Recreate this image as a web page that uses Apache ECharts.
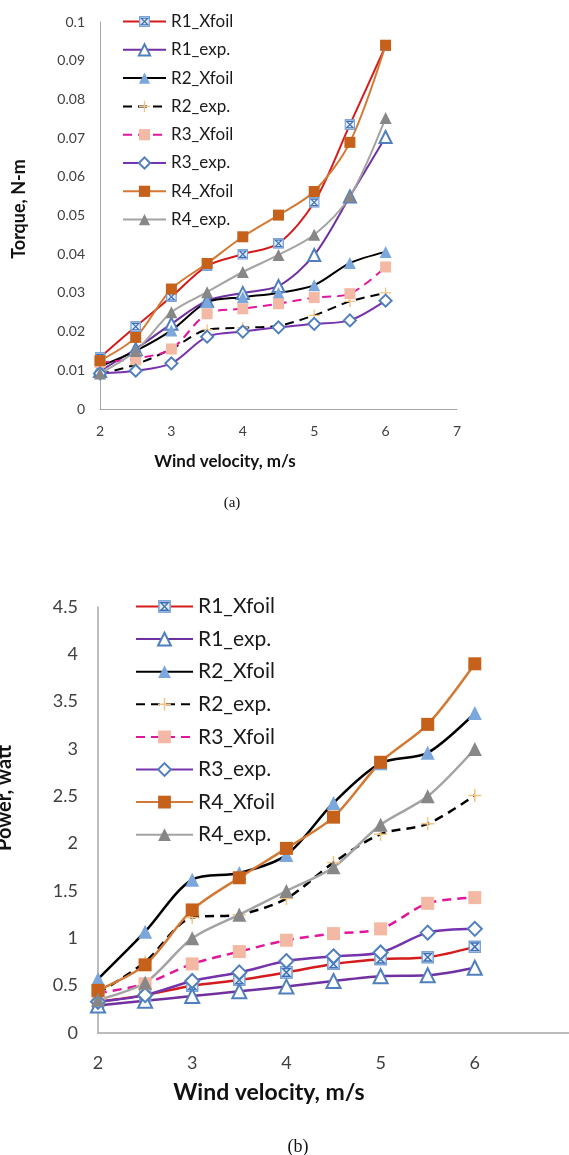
<!DOCTYPE html>
<html>
<head>
<meta charset="utf-8">
<title>Torque and power vs wind velocity</title>
<script src="https://cdn.jsdelivr.net/npm/echarts@6/dist/echarts.min.js"></script>
<style>
  html, body { margin: 0; padding: 0; background: #fff; }
  #chart-a { position: absolute; left: 0; top: 0; width: 569px; height: 540px; }
  #chart-b { position: absolute; left: 0; top: 540px; width: 569px; height: 615px; }
</style>
</head>
<body>
<div id="chart-a"></div>
<div id="chart-b"></div>
<script>
// wind velocity, m/s
const velocity = [2, 2.5, 3, 3.5, 4, 4.5, 5, 5.5, 6]
const seriesNames = ['R1_Xfoil', 'R1_exp.', 'R2_Xfoil', 'R2_exp.', 'R3_Xfoil', 'R3_exp.', 'R4_Xfoil', 'R4_exp.']

// (a) torque, N-m
const torqueR1Xfoil = [0.0133, 0.0213, 0.029, 0.037, 0.040, 0.0428, 0.0534, 0.0735, 0.0938]
const torqueR1Exp = [0.0098, 0.0155, 0.022, 0.028, 0.030, 0.0318, 0.0398, 0.0549, 0.0703]
const torqueR2Xfoil = [0.011, 0.015, 0.0203, 0.0276, 0.0289, 0.030, 0.032, 0.0377, 0.0406]
const torqueR2Exp = [0.009, 0.0115, 0.0155, 0.0205, 0.021, 0.0215, 0.0242, 0.0278, 0.030]
const torqueR3Xfoil = [0.012, 0.013, 0.0155, 0.0246, 0.0259, 0.0272, 0.0288, 0.0298, 0.0367]
const torqueR3Exp = [0.0092, 0.0099, 0.0118, 0.0187, 0.020, 0.0211, 0.022, 0.0229, 0.028]
const torqueR4Xfoil = [0.0125, 0.0185, 0.031, 0.0376, 0.0445, 0.0501, 0.0562, 0.0689, 0.094]
const torqueR4Exp = [0.0092, 0.015, 0.025, 0.0302, 0.0354, 0.0398, 0.045, 0.0549, 0.0752]

// (b) power, watt
const powerR1Xfoil = [0.33, 0.40, 0.50, 0.56, 0.64, 0.73, 0.78, 0.80, 0.91]
const powerR1Exp = [0.29, 0.34, 0.39, 0.44, 0.49, 0.55, 0.60, 0.61, 0.69]
const powerR2Xfoil = [0.57, 1.07, 1.62, 1.69, 1.88, 2.43, 2.85, 2.96, 3.38]
const powerR2Exp = [0.42, 0.75, 1.22, 1.25, 1.42, 1.80, 2.10, 2.21, 2.51]
const powerR3Xfoil = [0.42, 0.52, 0.73, 0.86, 0.98, 1.05, 1.10, 1.37, 1.43]
const powerR3Exp = [0.33, 0.40, 0.55, 0.64, 0.76, 0.81, 0.85, 1.06, 1.10]
const powerR4Xfoil = [0.45, 0.72, 1.30, 1.64, 1.95, 2.28, 2.86, 3.26, 3.90]
const powerR4Exp = [0.35, 0.53, 1.00, 1.25, 1.50, 1.75, 2.20, 2.50, 3.00]

const FONT = 'Lato, "Open Sans", sans-serif'

// square with an X inside (R1_Xfoil marker)
const xBoxSvg = "<svg xmlns='http://www.w3.org/2000/svg' width='24' height='24' viewBox='0 0 24 24'>" +
  "<rect x='1.5' y='1.5' width='21' height='21' fill='#e3ecf7' stroke='#7ca3d6' stroke-width='3'/>" +
  "<path d='M5 5 L19 5 L5 19 L19 19 Z' fill='none' stroke='#3d6fb8' stroke-width='2.6'/></svg>"
const xBoxSymbol = 'image://data:image/svg+xml;charset=utf-8,' + encodeURIComponent(xBoxSvg)
const plusSymbol = 'path://M5.3,0 L6.7,0 L6.7,5.3 L12,5.3 L12,6.7 L6.7,6.7 L6.7,12 L5.3,12 L5.3,6.7 L0,6.7 L0,5.3 L5.3,5.3 Z'

// per-series look: line colour, dash, marker
const styles = [
  { line: '#d41c1c', dash: 'solid', symbol: xBoxSymbol, color: '#7ca3d6', k: 1.0 },
  { line: '#7030a0', dash: 'solid', symbol: 'emptyTriangle', color: '#4f7fbf', k: 1.1 },
  { line: '#000000', dash: 'solid', symbol: 'triangle', color: '#7ba7dc', k: 1.1 },
  { line: '#000000', dash: [9, 6], symbol: plusSymbol, color: '#f2c47f', k: 1.0 },
  { line: '#e0169c', dash: [9, 6], symbol: 'rect', color: '#f4b9a4', k: 1.0 },
  { line: '#7534ad', dash: 'solid', symbol: 'emptyDiamond', color: '#4f7fbf', k: 1.1 },
  { line: '#d27a35', dash: 'solid', symbol: 'rect', color: '#c6611b', k: 1.0 },
  { line: '#a3a3a3', dash: 'solid', symbol: 'triangle', color: '#878787', k: 1.1 }
]

const toPairs = (ys) => velocity.map((x, i) => [x, ys[i]])

const buildSeries = (lists, size, width) => lists.map((ys, i) => {
  const s = styles[i]
  return {
    name: seriesNames[i],
    type: 'line',
    smooth: 0.3,
    data: toPairs(ys),
    symbol: s.symbol,
    symbolSize: Math.round(size * s.k),
    lineStyle: { color: s.line, width: width, type: s.dash },
    itemStyle: { color: s.color, borderWidth: 1.5 },
    emphasis: { disabled: true }
  }
})

const makeOption = (cfg) => ({
  animation: false,
  textStyle: { fontFamily: FONT },
  grid: cfg.grid,
  legend: {
    orient: 'vertical',
    left: cfg.legend.left,
    top: cfg.legend.top,
    itemWidth: cfg.legend.itemWidth,
    itemHeight: cfg.legend.itemHeight,
    itemGap: cfg.legend.itemGap,
    padding: 0,
    selectedMode: false,
    textStyle: {
      fontFamily: FONT,
      fontSize: cfg.legend.fontSize,
      color: '#1a1a1a',
      padding: [0, 0, 0, 0]
    },
    data: seriesNames
  },
  xAxis: {
    type: 'value',
    min: 2,
    max: 7,
    interval: 1,
    splitLine: { show: false },
    axisTick: { show: false },
    axisLine: { lineStyle: { color: '#a6a6a6', width: cfg.axisWidth } },
    axisLabel: { fontFamily: FONT, fontSize: cfg.tickFont, color: '#404040', margin: cfg.xMargin, showMaxLabel: cfg.showMax }
  },
  yAxis: {
    type: 'value',
    min: 0,
    max: cfg.yMax,
    interval: cfg.yInterval,
    splitLine: { show: false },
    axisTick: { show: false },
    axisLine: { show: true, lineStyle: { color: '#a6a6a6', width: cfg.axisWidth } },
    axisLabel: { fontFamily: FONT, fontSize: cfg.tickFont, color: '#404040', margin: cfg.yMargin, formatter: cfg.yFormat }
  },
  graphic: cfg.graphic,
  series: buildSeries(cfg.lists, cfg.symbolSize, cfg.lineWidth)
})

const textEl = (text, x, y, size, bold, rotate, family) => ({
  type: 'text',
  x: x,
  y: y,
  rotation: rotate ? Math.PI / 2 : 0,
  style: {
    text: text,
    fontFamily: family || FONT,
    fontSize: size,
    fontWeight: bold ? 'bold' : 'normal',
    fill: '#111',
    align: 'center',
    verticalAlign: 'middle'
  }
})

// (a) 扭矩
const chartA = echarts.init(document.getElementById('chart-a'))
chartA.setOption(makeOption({
  grid: { left: 100, top: 22, width: 357, height: 387 },
  legend: { left: 122, top: 13, itemWidth: 43, itemHeight: 14, itemGap: 11.3, fontSize: 17 },
  axisWidth: 1,
  tickFont: 14,
  xMargin: 15,
  yMargin: 15,
  showMax: true,
  yMax: 0.1,
  yInterval: 0.01,
  yFormat: (v) => (v === 0 ? '0' : String(Math.round(v * 100) / 100)),
  symbolSize: 11,
  lineWidth: 2,
  lists: [torqueR1Xfoil, torqueR1Exp, torqueR2Xfoil, torqueR2Exp, torqueR3Xfoil, torqueR3Exp, torqueR4Xfoil, torqueR4Exp],
  graphic: [
    textEl('Torque, N-m', 19, 209, 18, true, true),
    textEl('Wind velocity, m/s', 225, 462, 17, true, false),
    textEl('(a)', 232, 503, 15, false, false, '"Liberation Serif", serif')
  ]
}))

// (b) 功率
const chartB = echarts.init(document.getElementById('chart-b'))
chartB.setOption(makeOption({
  grid: { left: 98, top: 67, width: 494, height: 426 },
  legend: { left: 135, top: 56, itemWidth: 57, itemHeight: 16, itemGap: 11.6, fontSize: 21 },
  axisWidth: 1.5,
  tickFont: 18,
  xMargin: 21,
  yMargin: 20,
  showMax: false,
  yMax: 4.5,
  yInterval: 0.5,
  yFormat: (v) => String(v),
  symbolSize: 13,
  lineWidth: 2.5,
  lists: [powerR1Xfoil, powerR1Exp, powerR2Xfoil, powerR2Exp, powerR3Xfoil, powerR3Exp, powerR4Xfoil, powerR4Exp],
  graphic: [
    textEl('Power, watt', 5, 258, 20, true, true),
    textEl('Wind velocity, m/s', 269, 553, 23, true, false),
    textEl('(b)', 298, 607, 18, false, false, '"Liberation Serif", serif')
  ]
}))
</script>
</body>
</html>
